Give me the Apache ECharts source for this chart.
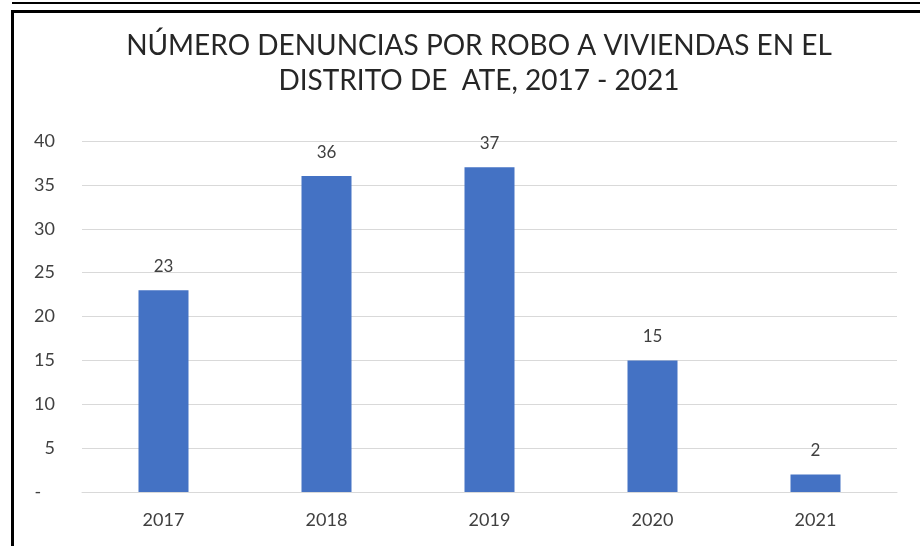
<!DOCTYPE html>
<html>
<head>
<meta charset="utf-8">
<script src="https://cdn.jsdelivr.net/npm/echarts@6/dist/echarts.min.js"></script>
<style>
html,body{margin:0;padding:0;background:#fff;}
#c{width:920px;height:546px;}
</style>
</head>
<body>
<div id="c"></div>
<script>
const titleLines = ['NÚMERO DENUNCIAS POR ROBO A VIVIENDAS EN EL', 'DISTRITO DE  ATE, 2017 - 2021'];
const categories = ['2017', '2018', '2019', '2020', '2021'];
const denuncias = [23, 36, 37, 15, 2];
const yTicks = {min: 0, max: 40, interval: 5};

const chart = echarts.init(document.getElementById('c'), null, {renderer: 'canvas'});
chart.setOption({
  backgroundColor: '#ffffff',
  animation: false,
  title: {
    text: titleLines.join('\n'),
    left: 474,
    textAlign: 'center',
    top: 23,
    textStyle: {fontFamily: 'Lato', fontSize: 28, fontWeight: 'normal', color: '#262626', lineHeight: 35}
  },
  graphic: [
    {type: 'line', shape: {x1: 12, y1: 3, x2: 920, y2: 3}, style: {stroke: '#000', lineWidth: 2}},
    {type: 'line', shape: {x1: 11, y1: 11.5, x2: 920, y2: 11.5}, style: {stroke: '#000', lineWidth: 3}},
    {type: 'line', shape: {x1: 12.5, y1: 10, x2: 12.5, y2: 546}, style: {stroke: '#000', lineWidth: 3}}
  ],
  grid: {left: 82, right: 23, top: 141, bottom: 54},
  xAxis: {
    type: 'category',
    data: categories,
    axisLine: {lineStyle: {color: '#d9d9d9'}},
    axisTick: {show: false},
    axisLabel: {fontFamily: 'Lato', fontSize: 18, color: '#404040', margin: 19}
  },
  yAxis: {
    type: 'value',
    min: yTicks.min, max: yTicks.max, interval: yTicks.interval,
    axisLine: {show: false},
    axisTick: {show: false},
    splitLine: {lineStyle: {color: '#d9d9d9'}},
    axisLabel: {
      fontFamily: 'Lato', fontSize: 18, color: '#404040', margin: 27,
      formatter: v => v === 0 ? '-   ' : String(v)
    }
  },
  series: [{
    type: 'bar',
    data: denuncias,
    barWidth: 50,
    itemStyle: {color: '#4472C4'},
    label: {show: true, position: 'top', distance: 15, fontFamily: 'Lato', fontSize: 17, color: '#404040'}
  }]
});
</script>
</body>
</html>
